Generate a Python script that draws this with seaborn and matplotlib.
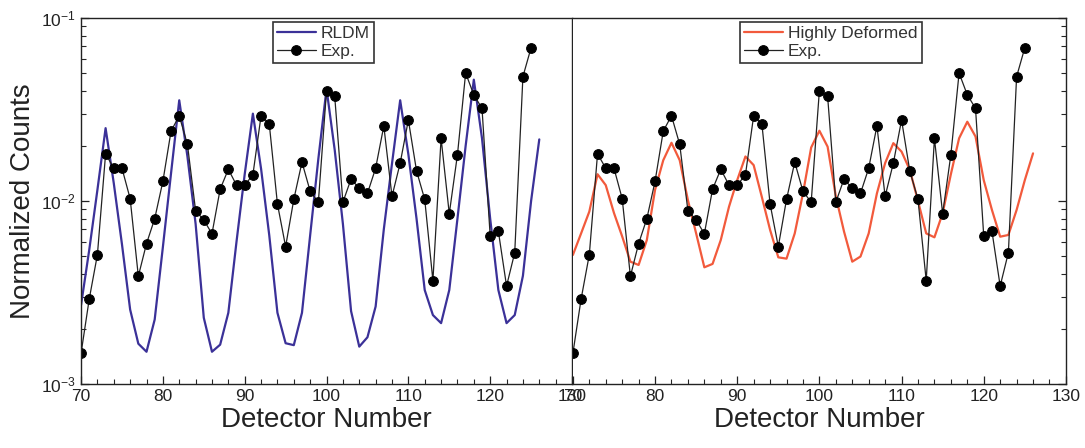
import pandas as pd
import matplotlib
matplotlib.use("Agg")
import matplotlib.pyplot as plt
import seaborn as sns
from matplotlib.ticker import MultipleLocator, LogLocator, NullFormatter

# detector numbers
detector = list(range(70, 127))
exp_detector = list(range(70, 126))

# measured normalized counts
exp_counts = [1.47e-3, 2.91e-3, 5.09e-3, 1.81e-2, 1.51e-2, 1.51e-2, 1.03e-2, 3.88e-3,
              5.85e-3, 8.0e-3, 1.28e-2, 2.41e-2, 2.92e-2, 2.04e-2, 8.85e-3, 7.87e-3,
              6.62e-3, 1.16e-2, 1.49e-2, 1.22e-2, 1.22e-2, 1.39e-2, 2.92e-2, 2.64e-2,
              9.63e-3, 5.63e-3, 1.02e-2, 1.63e-2, 1.13e-2, 9.84e-3, 4.01e-2, 3.73e-2,
              9.84e-3, 1.32e-2, 1.17e-2, 1.10e-2, 1.51e-2, 2.57e-2, 1.06e-2, 1.61e-2,
              2.77e-2, 1.46e-2, 1.02e-2, 3.67e-3, 2.20e-2, 8.52e-3, 1.79e-2, 5.0e-2,
              3.8e-2, 3.21e-2, 6.44e-3, 6.83e-3, 3.43e-3, 5.22e-3, 4.78e-2, 6.88e-2]

# RLDM model
rldm = [2.7e-3, 5.4e-3, 1.15e-2, 2.5e-2, 1.25e-2, 5.8e-3, 2.55e-3, 1.66e-3,
        1.5e-3, 2.25e-3, 5.6e-3, 1.42e-2, 3.55e-2, 1.75e-2, 7.5e-3, 2.3e-3,
        1.5e-3, 1.64e-3, 2.45e-3, 6.0e-3, 1.4e-2, 3.0e-2, 1.5e-2, 6.5e-3,
        2.45e-3, 1.67e-3, 1.63e-3, 2.45e-3, 6.5e-3, 1.7e-2, 4.1e-2, 1.9e-2,
        7.5e-3, 2.5e-3, 1.6e-3, 1.8e-3, 2.65e-3, 7.0e-3, 1.6e-2, 3.55e-2,
        1.8e-2, 8.0e-3, 3.26e-3, 2.38e-3, 2.15e-3, 3.26e-3, 8.0e-3, 2.0e-2,
        4.6e-2, 2.2e-2, 8.0e-3, 3.26e-3, 2.15e-3, 2.38e-3, 3.9e-3, 1.0e-2, 2.17e-2]

# highly deformed model
deformed = [5.07e-3, 6.65e-3, 8.75e-3, 1.4e-2, 1.22e-2, 8.6e-3, 6.4e-3, 4.66e-3,
            4.47e-3, 6.12e-3, 1.15e-2, 1.67e-2, 2.08e-2, 1.67e-2, 1.01e-2, 6.65e-3,
            4.34e-3, 4.53e-3, 6.12e-3, 9.3e-3, 1.3e-2, 1.75e-2, 1.57e-2, 1.05e-2,
            6.95e-3, 4.92e-3, 4.84e-3, 6.65e-3, 1.1e-2, 1.96e-2, 2.42e-2, 1.98e-2,
            1.06e-2, 6.8e-3, 4.66e-3, 4.97e-3, 6.65e-3, 1.1e-2, 1.61e-2, 2.07e-2,
            1.86e-2, 1.48e-2, 1.0e-2, 6.65e-3, 6.33e-3, 8.57e-3, 1.4e-2, 2.2e-2,
            2.71e-2, 2.25e-2, 1.3e-2, 8.93e-3, 6.38e-3, 6.52e-3, 8.93e-3, 1.3e-2, 1.82e-2]

exp_df = pd.DataFrame({"det": exp_detector, "counts": exp_counts})
model_df = pd.DataFrame({"det": detector, "rldm": rldm, "deformed": deformed})

sns.set_theme(style="ticks")
plt.rcParams['font.family'] = ['Liberation Sans', 'DejaVu Sans']
plt.rcParams['axes.edgecolor'] = '#222222'

fig = plt.figure(figsize=(10.85, 4.48), dpi=100)
ax1 = fig.add_axes([0.0747, 0.1429, 0.4525, 0.817])
ax2 = fig.add_axes([0.528, 0.1429, 0.4544, 0.817])

panels = [(ax1, "rldm", "RLDM", "#3b3198", (0.391, 0.99)),
          (ax2, "deformed", "Highly Deformed", "#f25a3c", (0.339, 0.99))]

for ax, col, name, color, anchor in panels:
    sns.lineplot(data=model_df, x="det", y=col, ax=ax, color=color, lw=1.6, label=name)
    sns.lineplot(data=exp_df, x="det", y="counts", ax=ax, color="#222222", lw=0.9,
                 marker="o", markersize=7, markerfacecolor="black",
                 markeredgecolor="black", label="Exp.")
    ax.set_yscale("log")
    ax.set_ylim(1e-3, 1e-1)
    ax.set_xlim(70, 130)
    ax.xaxis.set_major_locator(MultipleLocator(10))
    ax.xaxis.set_minor_locator(MultipleLocator(2))
    ax.yaxis.set_major_locator(LogLocator(base=10))
    ax.yaxis.set_minor_locator(LogLocator(base=10, subs=range(2, 10)))
    ax.yaxis.set_minor_formatter(NullFormatter())
    ax.tick_params(which="major", direction="in", length=6, width=0.9, labelsize=12.5,
                   colors="#222222")
    ax.tick_params(which="minor", direction="in", length=3.5, width=0.8)
    ax.set_xlabel("Detector Number", fontsize=20, labelpad=2, color="#222222")
    for s in ax.spines.values():
        s.set_linewidth(1.0)
    leg = ax.legend(loc="upper left", bbox_to_anchor=anchor, fontsize=12.5,
                    frameon=True, fancybox=False, framealpha=1, edgecolor="#333333",
                    borderpad=0.25, labelspacing=0.15, handlelength=2.2,
                    handletextpad=0.3, borderaxespad=0)
    leg.get_frame().set_linewidth(1.2)
    for t in leg.get_texts():
        t.set_color("#333333")

ax1.set_ylabel("Normalized Counts", fontsize=20, labelpad=4, color="#222222")
ax2.set_ylabel("")
ax2.spines["left"].set_visible(False)
ax2.yaxis.tick_right()
ax2.tick_params(axis="y", which="both", labelright=False, labelleft=False)

fig.savefig("out.png", dpi=100)
